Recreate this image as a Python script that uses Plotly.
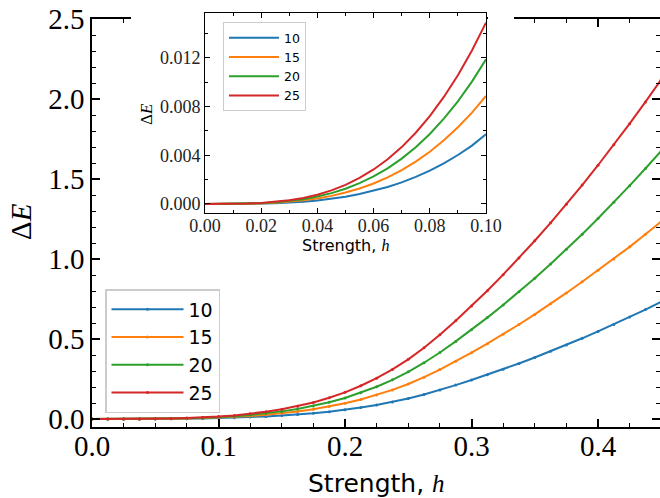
import plotly.graph_objects as go

# ---------------- data ----------------
sizes = ["10", "15", "20", "25"]
colors = ["#1f77b4", "#ff7f0e", "#2ca02c", "#d62728"]

h_main = [0.0, 0.0125, 0.025, 0.0375, 0.05, 0.0625, 0.075, 0.0875, 0.1, 0.1125,
          0.125, 0.1375, 0.15, 0.1625, 0.175, 0.1875, 0.2, 0.2125, 0.225, 0.2375,
          0.25, 0.2625, 0.275, 0.2875, 0.3, 0.3125, 0.325, 0.3375, 0.35, 0.3625,
          0.375, 0.3875, 0.4, 0.4125, 0.425, 0.4375, 0.45]

dE_10 = [0, 0.00001, 0.00007, 0.00025, 0.00065, 0.0013, 0.0022, 0.0036, 0.0057, 0.0084,
         0.0118, 0.0163, 0.0213, 0.0279, 0.0361, 0.0459, 0.0576, 0.0717, 0.0880, 0.107,
         0.1287, 0.1535, 0.1815, 0.2118, 0.2436, 0.2767, 0.3112, 0.3471, 0.3843, 0.4230,
         0.4630, 0.5044, 0.5472, 0.5913, 0.6369, 0.6838, 0.7321]
dE_15 = [0, 0.000012, 0.00011, 0.00038, 0.001, 0.00207, 0.0035, 0.0055, 0.0088, 0.0132,
         0.019, 0.0267, 0.0355, 0.0469, 0.061, 0.0779, 0.098, 0.1221, 0.1497, 0.182,
         0.219, 0.2612, 0.3087, 0.3604, 0.4144, 0.4707, 0.5295, 0.5905, 0.6539, 0.7197,
         0.7878, 0.8582, 0.929, 1.0, 1.076, 1.155, 1.235]
dE_20 = [0, 0.000016, 0.00014, 0.00051, 0.00134, 0.00277, 0.0047, 0.0075, 0.0118, 0.0177,
         0.0254, 0.0359, 0.0476, 0.063, 0.0819, 0.1047, 0.1316, 0.1641, 0.2015, 0.2449,
         0.2947, 0.3516, 0.4155, 0.4851, 0.5577, 0.6336, 0.7126, 0.7947, 0.8801, 0.9685,
         1.0602, 1.155, 1.2529, 1.3541, 1.4583, 1.5658, 1.6764]
dE_25 = [0, 0.00002, 0.00018, 0.00065, 0.0017, 0.0035, 0.0059, 0.0094, 0.0149, 0.0224,
         0.0322, 0.0454, 0.0603, 0.0797, 0.1037, 0.1325, 0.1666, 0.2077, 0.255, 0.310,
         0.373, 0.445, 0.526, 0.614, 0.706, 0.802, 0.902, 1.006, 1.114, 1.226,
         1.342, 1.462, 1.586, 1.714, 1.846, 1.982, 2.122]

h_inset = [0.0, 0.005, 0.01, 0.015, 0.02, 0.025, 0.03, 0.035, 0.04, 0.045, 0.05,
           0.055, 0.06, 0.065, 0.07, 0.075, 0.08, 0.085, 0.09, 0.095, 0.1]
ins_10 = [0, 0.0000004, 0.0000032, 0.000012, 0.00003, 0.000063, 0.000113, 0.000187, 0.000288,
          0.000422, 0.000597, 0.000813, 0.00108, 0.00139, 0.00177, 0.00222, 0.00274, 0.00334,
          0.00402, 0.00479, 0.00572]
ins_15 = [0, 0.0000006, 0.000005, 0.000019, 0.000047, 0.000098, 0.000177, 0.000293, 0.000452,
          0.00066, 0.000934, 0.00127, 0.00168, 0.00218, 0.00278, 0.00348, 0.00429, 0.00523,
          0.0063, 0.0075, 0.00887]
ins_20 = [0, 0.0000008, 0.0000067, 0.000025, 0.000064, 0.000132, 0.000238, 0.000392, 0.000605,
          0.000885, 0.00125, 0.00171, 0.00226, 0.00292, 0.00372, 0.00466, 0.00575, 0.00701,
          0.00843, 0.01005, 0.01188]
ins_25 = [0, 0.000001, 0.0000084, 0.000031, 0.00008, 0.000165, 0.000298, 0.000492, 0.000759,
          0.00111, 0.00157, 0.00214, 0.00283, 0.00367, 0.00467, 0.00585, 0.00721, 0.00879,
          0.01058, 0.01261, 0.0149]

main_series = [dE_10, dE_15, dE_20, dE_25]
inset_series = [ins_10, ins_15, ins_20, ins_25]

main_xticks = [0.0, 0.1, 0.2, 0.3, 0.4]
main_xticklabels = ["0.0", "0.1", "0.2", "0.3", "0.4"]
main_yticks = [0.0, 0.5, 1.0, 1.5, 2.0, 2.5]
main_yticklabels = ["0.0", "0.5", "1.0", "1.5", "2.0", "2.5"]
inset_xticks = [0.0, 0.02, 0.04, 0.06, 0.08, 0.10]
inset_xticklabels = ["0.00", "0.02", "0.04", "0.06", "0.08", "0.10"]
inset_yticks = [0.0, 0.004, 0.008, 0.012]
inset_yticklabels = ["0.000", "0.004", "0.008", "0.012"]

# ---------------- layout geometry ----------------
W, H = 660, 498
L, R, T, B = 92, 0, 13, 71
PW, PH = W - L - R, H - T - B


def px2x(px):
    return (px - L) / PW


def py2y(py):
    return (H - B - py) / PH


SERIF = "Liberation Serif"
SANS = "DejaVu Sans"

fig = go.Figure()

for name, ys, c in zip(sizes, main_series, colors):
    fig.add_trace(go.Scatter(
        x=h_main, y=ys, name=name, mode="lines+markers",
        line=dict(color=c, width=2), marker=dict(color=c, size=3),
        xaxis="x", yaxis="y", legend="legend"))

for name, ys, c in zip(sizes, inset_series, colors):
    fig.add_trace(go.Scatter(
        x=h_inset, y=ys, name=name, mode="lines",
        line=dict(color=c, width=2),
        xaxis="x2", yaxis="y2", legend="legend2"))

axis_common = dict(showgrid=False, zeroline=False, showline=True, linecolor="black",
                   mirror="ticks", ticks="inside", tickcolor="black")

fig.update_layout(
    width=W, height=H,
    margin=dict(l=L, r=R, t=T, b=B, autoexpand=False),
    paper_bgcolor="white", plot_bgcolor="white",
    hovermode=False,
    xaxis=dict(axis_common, domain=[0, 1], range=[0, 0.449],
               tickvals=main_xticks, ticktext=main_xticklabels,
               ticklen=8, tickwidth=1.5, linewidth=1.5, ticklabelstandoff=-8,
               tickfont=dict(family=SERIF, size=29, color="black"),
               minor=dict(ticks="inside", dtick=0.025, ticklen=4, tickwidth=1.2,
                          tickcolor="black", showgrid=False),
               anchor="y"),
    yaxis=dict(axis_common, domain=[0, py2y(19)], range=[-0.05, 2.5],
               tickvals=main_yticks, ticktext=main_yticklabels,
               ticklen=8, tickwidth=1.5, linewidth=1.5,
               tickfont=dict(family=SERIF, size=29, color="black"),
               minor=dict(ticks="inside", dtick=0.1, tick0=0, ticklen=4, tickwidth=1.2,
                          tickcolor="black", showgrid=False),
               anchor="x"),
    xaxis2=dict(axis_common, domain=[px2x(205), px2x(486)], range=[0, 0.1],
                tickvals=inset_xticks, ticktext=inset_xticklabels,
                ticklen=5, tickwidth=1, linewidth=1, ticklabelstandoff=-4,
                tickfont=dict(family=SERIF, size=18, color="#222"),
                minor=dict(ticks="inside", dtick=0.01, tick0=0, ticklen=3, tickwidth=1,
                           tickcolor="black", showgrid=False),
                anchor="y2"),
    yaxis2=dict(axis_common, domain=[py2y(213), 1.0], range=[-0.000747, 0.01569],
                tickvals=inset_yticks, ticktext=inset_yticklabels,
                ticklen=5, tickwidth=1, linewidth=1,
                tickfont=dict(family=SERIF, size=18, color="#222"),
                minor=dict(ticks="inside", dtick=0.002, tick0=0, ticklen=3, tickwidth=1,
                           tickcolor="black", showgrid=False),
                anchor="x2"),
    legend=dict(x=px2x(105), y=py2y(413), xanchor="left", yanchor="bottom",
                bgcolor="white", bordercolor="#cccccc", borderwidth=1.5,
                font=dict(family=SANS, size=19, color="black"),
                itemwidth=72, tracegroupgap=0),
    legend2=dict(x=px2x(223), y=py2y(22), xanchor="left", yanchor="top",
                 bgcolor="white", bordercolor="#cccccc", borderwidth=1,
                 font=dict(family=SANS, size=12.5, color="black"),
                 itemwidth=50, tracegroupgap=0),
    showlegend=True,
)

# hide the main top spine where the inset (with its labels) sits
for x0, x1 in [(131, 204), (488, 514)]:
    fig.add_shape(type="rect", xref="paper", yref="paper",
                  x0=px2x(x0), x1=px2x(x1), y0=py2y(26), y1=py2y(12),
                  fillcolor="white", line=dict(width=0), layer="above")

# axis titles
fig.add_annotation(xref="paper", yref="paper", x=px2x(376), y=py2y(483),
                   text="Strength, <span style=\"font-family:'Liberation Serif'\"><i>h</i></span>",
                   showarrow=False, font=dict(family=SANS, size=25, color="black"),
                   xanchor="center", yanchor="middle")
fig.add_annotation(xref="paper", yref="paper", x=px2x(21), y=py2y(222),
                   text="Δ<i>E</i>", textangle=-90,
                   showarrow=False, font=dict(family=SERIF, size=29, color="black"),
                   xanchor="center", yanchor="middle")
fig.add_annotation(xref="paper", yref="paper", x=px2x(345), y=py2y(245),
                   text="Strength, <span style=\"font-family:'Liberation Serif'\"><i>h</i></span>",
                   showarrow=False, font=dict(family=SANS, size=16, color="black"),
                   xanchor="center", yanchor="middle")
fig.add_annotation(xref="paper", yref="paper", x=px2x(147), y=py2y(114),
                   text="Δ<i>E</i>", textangle=-90,
                   showarrow=False, font=dict(family=SERIF, size=17, color="black"),
                   xanchor="center", yanchor="middle")

fig.write_html("out.html", config={"displayModeBar": False},
               post_script="document.body.style.margin='0';document.body.style.padding='0';")
